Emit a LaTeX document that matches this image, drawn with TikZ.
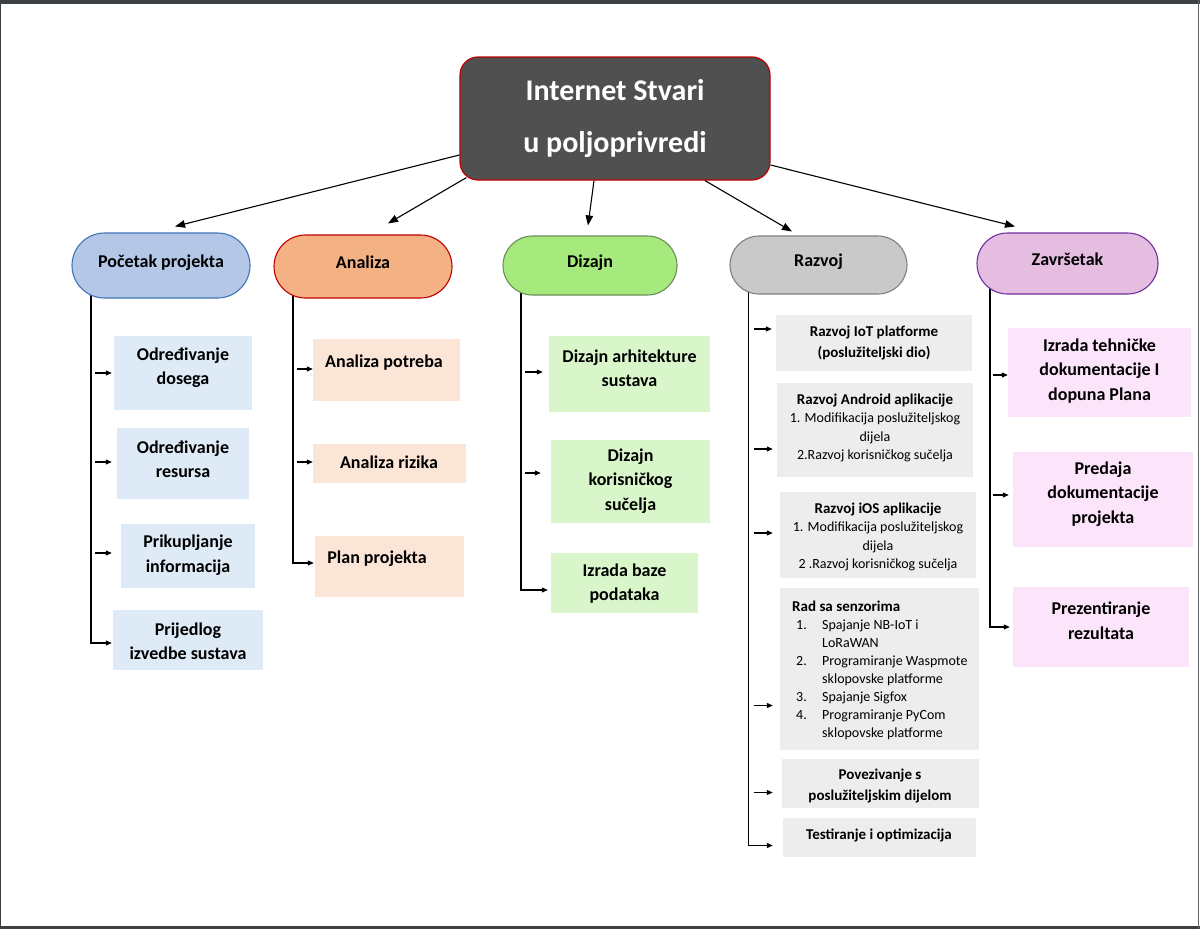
\documentclass[tikz,border=0pt]{standalone}
\usepackage{fontspec}
\setmainfont{Carlito}
\usetikzlibrary{arrows.meta,shapes.misc,backgrounds,calc}

\definecolor{rootfill}{HTML}{505050}
\definecolor{rootdraw}{HTML}{C00000}
\definecolor{pAf}{HTML}{B4C7E7}\definecolor{pAd}{HTML}{3F75B5}
\definecolor{pBf}{HTML}{F4B183}\definecolor{pBd}{HTML}{C00000}
\definecolor{pCf}{HTML}{A6E97C}\definecolor{pCd}{HTML}{6B8E5A}
\definecolor{pDf}{HTML}{C9C9C9}\definecolor{pDd}{HTML}{808080}
\definecolor{pEf}{HTML}{E5BDE1}\definecolor{pEd}{HTML}{7030A0}
\definecolor{cA}{HTML}{DEEBF7}
\definecolor{cB}{HTML}{FBE5D6}
\definecolor{cC}{HTML}{D9F6CB}
\definecolor{cD}{HTML}{EDEDED}
\definecolor{cE}{HTML}{FCE5FA}
\definecolor{framec}{HTML}{3C4043}

\newcommand\ttl[1]{{\fontsize{15}{18.5}\selectfont\bfseries #1}}
% [text style]{name}{x1}{y1}{x2}{y2}{fill}{tx,ty}{text}
\newcommand\bx[9][btxt]{%
  \node[box, fill=#7, minimum width={(#5-#3)*1pt}, minimum height={(#6-#4)*1pt}]
    (#2) at ({(#3+#5)/2},{(#4+#6)/2}) {};
  \node[#1] (#2t) at (#8) {#9};}
% {trunk}{box}{dy}{start gap}{end gap}
\newcommand\harr[5]{\draw[sarr] ($(#2.west -| #1)+(#4,#3)$) -- ($(#2.west)+(-#5,#3)$);}

\begin{document}
\begin{tikzpicture}[x=1pt,y=-1pt,
  pill/.style={rounded rectangle, draw, line width=1.1pt, inner sep=0pt,
    font=\fontsize{18}{22}\selectfont\bfseries, text height=8pt, text depth=5pt},
  box/.style={rectangle, inner sep=0pt, draw=none},
  btxt/.style={align=center, inner sep=0pt, font=\fontsize{18}{24.5}\selectfont\bfseries},
  gtxt/.style={align=center, inner sep=0pt, font=\fontsize{15}{21.5}\selectfont\bfseries},
  rtxt/.style={align=center, inner sep=0pt, font=\fontsize{14}{18.5}\selectfont},
  ltxt/.style={align=left, anchor=west, inner sep=0pt, font=\fontsize{14}{18}\selectfont},
  sarr/.style={line width=1.1pt, -{Triangle[length=6pt,width=5pt]}},
  barr/.style={line width=1.1pt, -{Triangle[length=10pt,width=7.5pt]}},
  trunk/.style={line width=1.1pt}]

\useasboundingbox (0,0) rectangle (1200,929);
% page frame
\fill[framec] (0,0) rectangle (1200,3.5);
\fill[framec] (0,926) rectangle (1200,929);
\draw[framec, line width=1pt] (0.5,0) -- (0.5,929);
\draw[framec!80, line width=1pt] (1198,0) -- (1198,929);

% root
\node[rectangle, rounded corners=18pt, fill=rootfill, draw=rootdraw, line width=1.2pt,
  minimum width=310pt, minimum height=123pt, inner sep=0pt, align=center, text=white,
  font=\fontsize{30}{52}\selectfont\bfseries] (root) at (615,118.5) {Internet Stvari\\u poljoprivredi};

% phases
\node[pill, fill=pAf, draw=pAd, minimum width=178pt, minimum height=65pt] (p1) at (161,265.5) {Početak projekta};
\node[pill, fill=pBf, draw=pBd, minimum width=178pt, minimum height=63pt] (p2) at (363,266.5) {Analiza};
\node[pill, fill=pCf, draw=pCd, minimum width=174pt, minimum height=59pt] (p3) at (590,265.5) {Dizajn};
\node[pill, fill=pDf, draw=pDd, minimum width=177pt, minimum height=58pt] (p4) at (818.5,265) {Razvoj};
\node[pill, fill=pEf, draw=pEd, minimum width=181pt, minimum height=61pt] (p5) at (1067.5,263.5) {Završetak};

% root arrows
\draw[barr] ($(root.west)+(0,36.5)$) -- ($(p1.north)+(14,-6)$);
\draw[barr] ($(root.south west)+(7,-3)$) -- ($(p2.north)+(25,-11)$);
\draw[barr] ($(root.south)+(-21,0)$) -- ($(p3.north)+(-2,-10)$);
\draw[barr] ($(root.south)+(90,0)$) -- ($(p4.north)+(-26.5,-4)$);
\draw[barr] ($(root.east)+(0,46.5)$) -- ($(p5.north)+(-52.5,-6)$);

% trunk coordinates
\coordinate (t1) at (91,300);
\coordinate (t2) at (293,300);
\coordinate (t3) at (521,300);
\coordinate (t4) at (748.5,300);
\coordinate (t5) at (990,300);

% Početak projekta
\bx{b11}{114}{336}{252}{410}{cA}{183,367.5}{Određivanje\\dosega}
\bx{b12}{117}{428}{249}{499}{cA}{183,459}{Određivanje\\resursa}
\bx{b13}{121}{524}{255}{588}{cA}{188,555}{Prikupljanje\\informacija}
\bx{b14}{113}{610}{263}{670}{cA}{188,641}{Prijedlog\\izvedbe sustava}

% Analiza
\bx{b21}{313}{339}{460}{401}{cB}{384,363}{Analiza potreba}
\bx{b22}{313}{444}{466}{483}{cB}{389,462}{Analiza rizika}
\bx{b23}{315}{536}{464}{597}{cB}{377,559}{Plan projekta}

% Dizajn
\bx{b31}{549}{336}{710}{412}{cC}{629.5,368}{Dizajn arhitekture\\sustava}
\bx{b32}{551}{440}{710}{523}{cC}{630.5,481}{Dizajn\\korisničkog\\sučelja}
\bx{b33}{551}{553}{698}{613}{cC}{624.5,583.5}{Izrada baze\\podataka}

% Razvoj
\bx[gtxt]{b41}{776}{315}{972}{371}{cD}{874,343}{Razvoj IoT platforme\\(poslužiteljski dio)}
\bx[rtxt]{b42}{777}{383}{973}{477}{cD}{875,428}{\ttl{Razvoj Android aplikacije}\\1. Modifikacija poslužiteljskog\\dijela\\2.Razvoj korisničkog sučelja}
\bx[rtxt]{b43}{780}{492}{976}{578}{cD}{878,537}{\ttl{Razvoj iOS aplikacije}\\1. Modifikacija poslužiteljskog\\dijela\\2 .Razvoj korisničkog sučelja}
\bx[ltxt]{b44}{780}{588}{979}{750}{cD}{792,670.5}{\ttl{Rad sa senzorima}\\
\hspace*{4pt}\makebox[26pt][l]{1.}Spajanje NB-IoT i\\
\hspace*{30pt}LoRaWAN\\
\hspace*{4pt}\makebox[26pt][l]{2.}Programiranje Waspmote\\
\hspace*{30pt}sklopovske platforme\\
\hspace*{4pt}\makebox[26pt][l]{3.}Spajanje Sigfox\\
\hspace*{4pt}\makebox[26pt][l]{4.}Programiranje PyCom\\
\hspace*{30pt}sklopovske platforme}
\bx[gtxt]{b45}{782}{759}{979}{808}{cD}{880,786}{Povezivanje s\\poslužiteljskim dijelom}
\bx[gtxt]{b46}{783}{818}{976}{857}{cD}{879,835}{Testiranje i optimizacija}

% Završetak
\bx{b51}{1008}{328}{1191}{417}{cE}{1099.5,370.7}{Izrada tehničke\\dokumentacije I\\dopuna Plana}
\bx{b52}{1013}{452}{1193}{547}{cE}{1103,494}{Predaja\\dokumentacije\\projekta}
\bx{b53}{1013}{587}{1189}{667}{cE}{1101,620.5}{Prezentiranje\\rezultata}

% trunks with final bent arrows
\begin{scope}[on background layer]
\draw[sarr] (p1.center -| t1) -- ($(b14.west -| t1)+(0,3)$) -- ($(b14.west)+(-1,3)$);
\draw[sarr] (p2.center -| t2) -- ($(b23.west -| t2)+(0,-3.5)$) -- ($(b23.west)+(-1,-3.5)$);
\draw[sarr] (p3.center -| t3) -- ($(b33.west -| t3)+(0,7)$) -- ($(b33.west)+(-3,7)$);
\draw[sarr] (p4.center -| t4) -- ($(b46.west -| t4)+(0,8)$) -- ($(b46.west)+(-10,8)$);
\draw[sarr] (p5.center -| t5) -- ($(b53.west -| t5)+(0,0)$) -- ($(b53.west)+(-3,0)$);
\end{scope}

% short arrows
\harr{t1}{b11}{0}{4}{2}
\harr{t1}{b12}{-1.5}{4}{5}
\harr{t1}{b13}{-3}{4}{9}
\harr{t2}{b21}{-1}{4}{0}
\harr{t2}{b22}{-1.5}{4}{0}
\harr{t3}{b31}{-2}{4}{6}
\harr{t3}{b32}{-8.5}{4}{10}
\harr{t4}{b41}{-14}{5}{4}
\harr{t4}{b42}{19}{5}{4}
\harr{t4}{b43}{-2}{5}{7}
\harr{t4}{b44}{36.5}{5}{7}
\harr{t4}{b45}{9}{5}{9}
\harr{t5}{b51}{2.5}{3}{0}
\harr{t5}{b52}{-4.5}{3}{4}

\end{tikzpicture}
\end{document}
